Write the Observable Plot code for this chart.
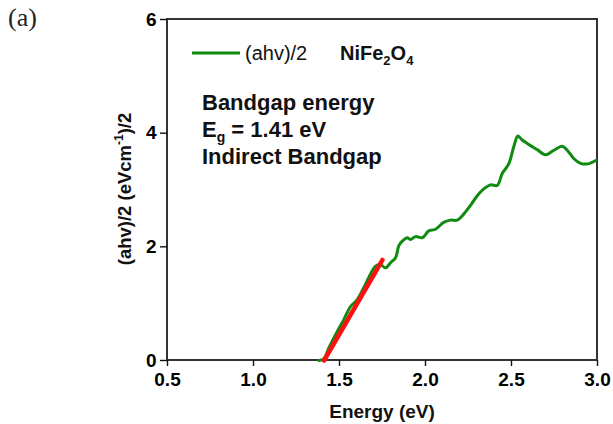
<!DOCTYPE html>
<html>
<head>
<meta charset="utf-8">
<script src="https://cdn.jsdelivr.net/npm/d3@7"></script>
<script src="https://cdn.jsdelivr.net/npm/@observablehq/plot@0.6"></script>
<style>
  html, body { margin: 0; padding: 0; background: #fff; }
  #wrap { position: relative; width: 613px; height: 424px; }
  #panel { position: absolute; left: 8px; top: 3px; font-family: "Liberation Serif", "DejaVu Serif", serif; font-size: 26px; color: #222; }
</style>
</head>
<body>
<div id="wrap">
  <div id="panel">(a)</div>
</div>
<script>
// Photon energy (eV) and (αhν)^1/2 absorption values of NiFe2O4
const energy = [1.380, 1.409, 1.438, 1.487, 1.525, 1.564, 1.603, 1.641, 1.680, 1.709,
                1.738, 1.767, 1.797, 1.826, 1.845, 1.865, 1.894, 1.913, 1.942, 1.981,
                2.019, 2.058, 2.106, 2.145, 2.184, 2.223, 2.262, 2.301, 2.339, 2.378,
                2.417, 2.446, 2.484, 2.513, 2.537, 2.562, 2.591, 2.649, 2.698, 2.746,
                2.795, 2.824, 2.863, 2.901, 2.942, 2.990];
const absorb = [0.00, 0.03, 0.22, 0.51, 0.72, 0.95, 1.07, 1.28, 1.52, 1.66,
                1.69, 1.63, 1.72, 1.81, 2.02, 2.10, 2.16, 2.13, 2.18, 2.16,
                2.28, 2.31, 2.43, 2.47, 2.47, 2.58, 2.73, 2.90, 3.02, 3.09,
                3.08, 3.29, 3.46, 3.76, 3.95, 3.88, 3.82, 3.71, 3.62, 3.70,
                3.77, 3.70, 3.55, 3.47, 3.46, 3.52];

// Linear fit of the absorption edge; intercept with zero gives Eg
const bandgap = 1.41;
const fitEnergy = [bandgap, 1.75];
const fitAbsorb = [0, 1.77];

const xTicks = [0.5, 1.0, 1.5, 2.0, 2.5, 3.0];
const yTicks = [0, 2, 4, 6];

const curve = energy.map((e, i) => ({e, a: absorb[i]}));
const fit = fitEnergy.map((e, i) => ({e, a: fitAbsorb[i]}));

const sans = "'Liberation Sans', Arial, sans-serif";
const green = "#118a11";

const plot = Plot.plot({
  width: 613,
  height: 424,
  marginLeft: 167,
  marginRight: 16,
  marginTop: 19,
  marginBottom: 64,
  style: {fontFamily: sans, fontSize: "19px", background: "transparent", overflow: "visible"},
  x: {domain: [0.5, 3.0]},
  y: {domain: [0, 6]},
  marks: [
    Plot.axisX({ticks: xTicks, tickFormat: d3.format(".1f"), tickSize: 6, tickPadding: 6,
                fontWeight: "bold", stroke: "#111", strokeWidth: 1.4, label: null}),
    Plot.axisY({ticks: yTicks, tickFormat: d3.format("d"), tickSize: 7, tickPadding: 4,
                fontWeight: "bold", stroke: "#111", strokeWidth: 1.4, label: null}),
    Plot.line(curve, {x: "e", y: "a", stroke: green, strokeWidth: 3, curve: "catmull-rom"}),
    Plot.line(fit, {x: "e", y: "a", stroke: "#ff1010", strokeWidth: 4.5})
  ]
});

document.getElementById("wrap").appendChild(plot);

const svg = d3.select(plot);
const [x0, x1] = plot.scale("x").range;
const [y0, y1] = plot.scale("y").range;   // bottom, top

// plot box
const box = svg.insert("g", ":first-child").attr("fill", "none");
box.append("path")
  .attr("d", `M${x0},${y1}H${x1}V${y0}H${x0}Z`)
  .attr("stroke", "#333").attr("stroke-width", 2);

// Legend, annotations and axis titles (rich text with sub/superscripts)
const g = svg.append("g").attr("font-family", sans).attr("fill", "#111").attr("text-anchor", "start");

// legend entry
g.append("line").attr("x1", 192).attr("x2", 240).attr("y1", 53).attr("y2", 53)
  .attr("stroke", green).attr("stroke-width", 3);
g.append("text").attr("x", 245).attr("y", 60).attr("font-size", 20).text("(ahv)/2");

const chem = g.append("text").attr("x", 340).attr("y", 60).attr("font-size", 20).attr("font-weight", "bold");
chem.append("tspan").text("NiFe");
chem.append("tspan").attr("font-size", 13).attr("dy", 5).text("2");
chem.append("tspan").attr("dy", -5).text("O");
chem.append("tspan").attr("font-size", 13).attr("dy", 5).text("4");

// bandgap notes
const note = g.append("g").attr("font-size", 22).attr("font-weight", "bold");
note.append("text").attr("x", 202).attr("y", 110).text("Bandgap energy");
const eg = note.append("text").attr("x", 202).attr("y", 137);
eg.append("tspan").text("E");
eg.append("tspan").attr("font-size", 14).attr("dy", 5).text("g");
eg.append("tspan").attr("dy", -5).text(` = ${bandgap.toFixed(2)} eV`);
note.append("text").attr("x", 202).attr("y", 164).text("Indirect Bandgap");

// axis titles
g.append("text").attr("x", 382).attr("y", 418).attr("text-anchor", "middle")
  .attr("font-size", 19).attr("font-weight", "bold").text("Energy (eV)");

const yt = g.append("text").attr("transform", "translate(131,189) rotate(-90)")
  .attr("text-anchor", "middle").attr("font-size", 18.5).attr("font-weight", "bold");
yt.append("tspan").text("(ahv)/2 (eVcm");
yt.append("tspan").attr("font-size", 12).attr("dy", -8).text("-1");
yt.append("tspan").attr("dy", 8).text(")/2");
</script>
</body>
</html>
